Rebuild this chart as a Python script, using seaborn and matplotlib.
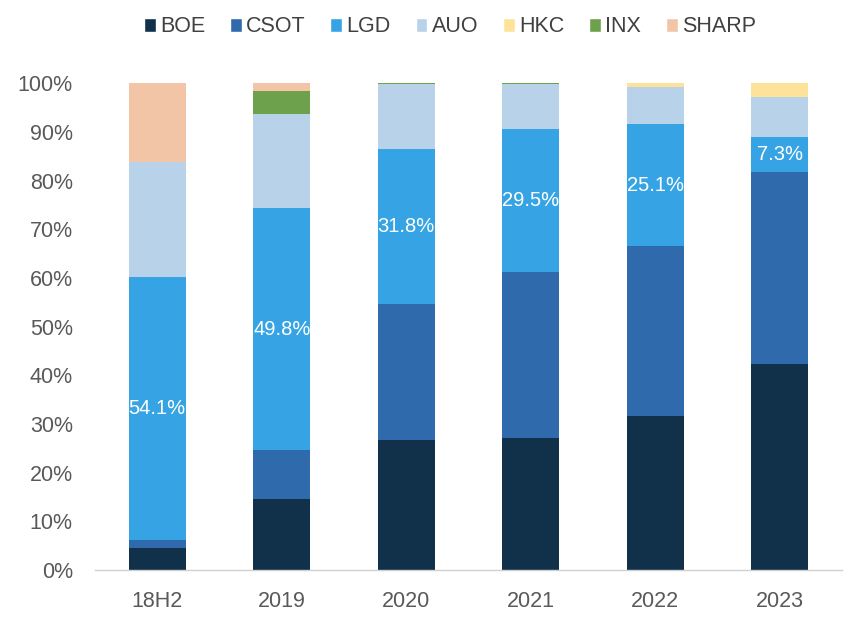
import numpy as np
import pandas as pd
import matplotlib
matplotlib.use("Agg")
import matplotlib.pyplot as plt
import seaborn as sns
from matplotlib.patches import Patch

categories = ["18H2", "2019", "2020", "2021", "2022", "2023"]
BOE = [4.5, 14.6, 26.7, 27.1, 31.6, 42.3]
CSOT = [1.7, 10.0, 27.9, 34.1, 34.9, 39.4]
LGD = [54.1, 49.8, 31.8, 29.5, 25.1, 7.3]
AUO = [23.5, 19.2, 13.4, 9.1, 7.6, 8.2]
HKC = [0.0, 0.0, 0.0, 0.0, 0.8, 2.8]
INX = [0.0, 4.8, 0.2, 0.2, 0.0, 0.0]
SHARP = [16.2, 1.6, 0.0, 0.0, 0.0, 0.0]
lgd_labels = ["54.1%", "49.8%", "31.8%", "29.5%", "25.1%", "7.3%"]

series = {"BOE": BOE, "CSOT": CSOT, "LGD": LGD, "AUO": AUO,
          "HKC": HKC, "INX": INX, "SHARP": SHARP}
colors = {"BOE": "#11304a", "CSOT": "#2f6aad", "LGD": "#36a4e4",
          "AUO": "#b7d2e9", "HKC": "#fde39a", "INX": "#6da14b",
          "SHARP": "#f2c5a7"}

sns.set_theme(style="white")
plt.rcParams["font.family"] = ["Liberation Sans", "DejaVu Sans"]

fig = plt.figure(figsize=(8.61, 6.21), dpi=100)
ax = fig.add_axes([95/861, 1 - 570/621, (842-95)/861, (570-83.3)/621])

bottom = np.zeros(len(categories))
for name, vals in series.items():
    v = np.array(vals) / 100.0
    df = pd.DataFrame({"cat": categories, "val": v})
    sns.barplot(data=df, x="cat", y="val", color=colors[name], width=0.46,
                bottom=bottom, ax=ax, linewidth=0, saturation=1)
    if name == "LGD":
        for i, lab in enumerate(lgd_labels):
            ax.text(i, bottom[i] + v[i] / 2, lab, ha="center", va="center",
                    color="white", fontsize=14.5)
    bottom = bottom + v

ax.set_xlim(-0.5, 5.5)
ax.set_ylim(0, 1)
ax.set_yticks(np.arange(0, 1.01, 0.1))
ax.set_yticklabels([f"{int(round(t*100))}%" for t in np.arange(0, 1.01, 0.1)])
ax.set_xlabel("")
ax.set_ylabel("")
ax.tick_params(axis="both", labelsize=15.5, colors="#595959", length=0)
ax.tick_params(axis="x", pad=15)
ax.tick_params(axis="y", pad=16)
for s in ["top", "right", "left"]:
    ax.spines[s].set_visible(False)
ax.spines["bottom"].set_color("#d0d0d0")
ax.spines["bottom"].set_linewidth(1)

handles = [Patch(facecolor=colors[n], label=n) for n in series]
fig.legend(handles=handles, loc="center", bbox_to_anchor=(450/861, 1 - 27/621),
           ncol=7, frameon=False, fontsize=15.5, handlelength=0.55, handleheight=0.6,
           handletextpad=0.2, columnspacing=1.15, labelcolor="#404040")

fig.savefig("out.png", dpi=100)
